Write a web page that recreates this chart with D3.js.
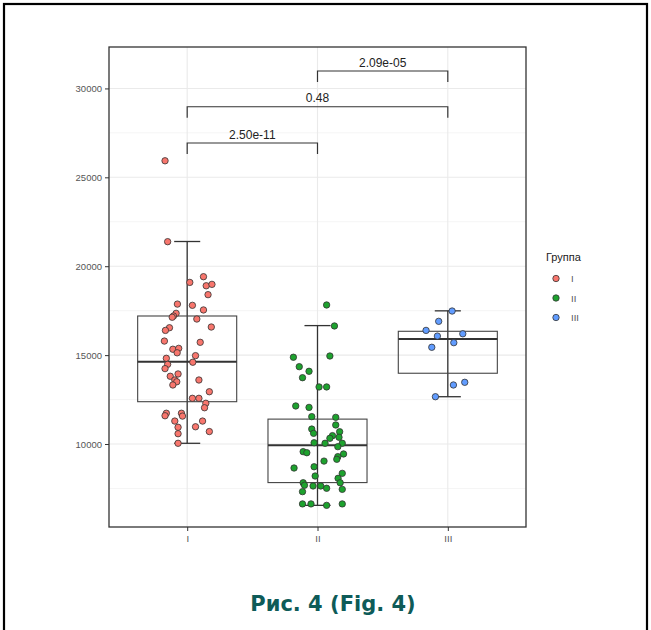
<!DOCTYPE html>
<html><head><meta charset="utf-8">
<script src="https://cdn.jsdelivr.net/npm/d3@7"></script>
<style>html,body{margin:0;padding:0;background:#fff;}svg{display:block;}</style>
</head><body><svg id="chart" width="651" height="630"></svg>
<script>
// ---- data ----
const categories = ["I", "II", "III"];
const groupColors = ["#F8766D", "#1DA22E", "#619CFF"];
const legendTitle = "Группа";
const caption = "Рис. 4 (Fig. 4)";

const valuesI = [25930,21380,19090,19410,18900,18980,18400,17870,17800,17540,17350,17200,17130,17030,16580,16540,16390,
  15790,15720,15330,15380,15130,14970,14820,14600,14480,14240,13940,13810,13600,13500,13320,13600,12940,12570,12570,
  12290,12040,11730,11590,11730,11570,11290,11290,10970,10940,10700,10580,10040];
const jitterI = [-0.17,-0.15,0.02,0.125,0.146,0.19,0.16,-0.075,0.04,0.125,-0.085,-0.105,-0.115,0.074,0.185,-0.136,-0.167,
  -0.175,0.1,-0.11,-0.065,-0.077,0.064,-0.16,0.043,-0.15,-0.17,-0.07,-0.13,-0.095,-0.08,-0.11,0.09,0.17,0.04,0.09,
  0.143,0.133,-0.16,-0.17,-0.044,-0.036,-0.095,0.118,0.064,-0.07,0.17,-0.07,-0.07];

const valuesII = [17820,16640,14880,14950,14350,14090,13730,13210,13210,12140,12060,11540,11500,11070,10840,10600,10690,
  10470,10380,10320,10070,10040,10040,9850,9570,9510,9440,9290,9140,9040,8650,8720,8200,8350,8070,7820,7820,7680,7640,
  7640,7510,7450,7320,6630,6630,6550,6630];
const jitterII = [0.07,0.13,-0.185,0.095,-0.14,-0.065,-0.115,0.012,0.07,-0.167,-0.065,-0.044,0.14,0.14,-0.044,-0.03,0.17,
  0.115,0.165,0.095,-0.026,0.058,0.19,0.156,-0.11,-0.082,0.2,0.156,0.148,0.05,-0.18,-0.026,-0.018,0.19,0.158,0.174,-0.11,
  -0.1,-0.034,0.025,0.07,0.19,-0.115,-0.115,-0.05,0.07,0.19];

const valuesIII = [17480,16900,16390,16070,16200,15700,15440,13470,13320,12660];
const jitterIII = [0.033,-0.07,-0.167,-0.08,0.115,0.046,-0.123,0.13,0.043,-0.095];

// box statistics
const boxQ1 = [12380, 7830, 13980];
const boxMedian = [14630, 9930, 15900];
const boxQ3 = [17200, 11400, 16340];
const whiskerLow = [10040, 6550, 12660];
const whiskerHigh = [21390, 16660, 17490];

// y axis ticks
const yTicks = [10000, 15000, 20000, 25000, 30000];
const yMinorTicks = [7500, 12500, 17500, 22500, 27500];
const yDomain = [5332, 32330];

// significance brackets
const bracketFrom = ["I", "I", "II"];
const bracketTo = ["II", "III", "III"];
const bracketLabels = ["2.50e-11", "0.48", "2.09e-05"];
const bracketY = [26930, 28970, 30980];

// ---- drawing ----
const svg = d3.select("#chart");
const panel = {left: 109, right: 526, top: 47, bottom: 527};

svg.append("rect").attr("x", 0).attr("y", 0).attr("width", 651).attr("height", 630).attr("fill", "#fff");
svg.append("rect").attr("x", 4).attr("y", 4).attr("width", 643).attr("height", 640)
  .attr("fill", "none").attr("stroke", "#000").attr("stroke-width", 2.2);

const x = d3.scalePoint().domain(categories).range([panel.left, panel.right]).padding(0.6);
const step = x.step();
const y = d3.scaleLinear().domain(yDomain).range([panel.bottom, panel.top]);

const g = svg.append("g");
// grid
g.selectAll(".ymin").data(yMinorTicks).join("line")
  .attr("x1", panel.left).attr("x2", panel.right).attr("y1", d => y(d)).attr("y2", d => y(d))
  .attr("stroke", "#F2F2F2").attr("stroke-width", 0.8);
g.selectAll(".ymaj").data(yTicks).join("line")
  .attr("x1", panel.left).attr("x2", panel.right).attr("y1", d => y(d)).attr("y2", d => y(d))
  .attr("stroke", "#EAEAEA").attr("stroke-width", 1.1);
g.selectAll(".xmaj").data(categories).join("line")
  .attr("x1", d => x(d)).attr("x2", d => x(d)).attr("y1", panel.top).attr("y2", panel.bottom)
  .attr("stroke", "#EAEAEA").attr("stroke-width", 1.1);

// error bars (whiskers) and boxes
categories.forEach((c, i) => {
  const cx = x(c);
  const cw = 0.1 * step;
  g.append("line").attr("x1", cx).attr("x2", cx).attr("y1", y(whiskerLow[i])).attr("y2", y(whiskerHigh[i]))
    .attr("stroke", "#333").attr("stroke-width", 1.3);
  [whiskerLow[i], whiskerHigh[i]].forEach(v => {
    g.append("line").attr("x1", cx - cw).attr("x2", cx + cw).attr("y1", y(v)).attr("y2", y(v))
      .attr("stroke", "#333").attr("stroke-width", 1.3);
  });
  const bw = 0.38 * step;
  g.append("rect").attr("x", cx - bw).attr("width", 2 * bw)
    .attr("y", y(boxQ3[i])).attr("height", y(boxQ1[i]) - y(boxQ3[i]))
    .attr("fill", "none").attr("stroke", "#444").attr("stroke-width", 1.1);
  g.append("line").attr("x1", cx - bw).attr("x2", cx + bw).attr("y1", y(boxMedian[i])).attr("y2", y(boxMedian[i]))
    .attr("stroke", "#333").attr("stroke-width", 2);
});

// points
const groups = [
  {vals: valuesI, jit: jitterI},
  {vals: valuesII, jit: jitterII},
  {vals: valuesIII, jit: jitterIII}
];
groups.forEach((grp, i) => {
  g.selectAll(".pt" + i).data(grp.vals.map((v, k) => ({v, j: grp.jit[k]}))).join("circle")
    .attr("cx", d => x(categories[i]) + d.j * step)
    .attr("cy", d => y(d.v))
    .attr("r", 3.2)
    .attr("fill", groupColors[i])
    .attr("stroke", "#333").attr("stroke-width", 0.8);
});

// brackets
const tip = 11;
bracketLabels.forEach((lab, i) => {
  const x1 = x(bracketFrom[i]), x2 = x(bracketTo[i]), yy = y(bracketY[i]);
  g.append("path").attr("d", `M${x1},${yy + tip}V${yy}H${x2}V${yy + tip}`)
    .attr("fill", "none").attr("stroke", "#333").attr("stroke-width", 1.2);
  g.append("text").attr("x", (x1 + x2) / 2).attr("y", yy - 4.5).attr("text-anchor", "middle")
    .attr("font-family", "Liberation Sans, Arial, sans-serif").attr("font-size", 12).attr("fill", "#222")
    .text(lab);
});

// panel border
svg.append("rect").attr("x", panel.left).attr("y", panel.top)
  .attr("width", panel.right - panel.left).attr("height", panel.bottom - panel.top)
  .attr("fill", "none").attr("stroke", "#333").attr("stroke-width", 1.3);

// axes
const yAxis = svg.append("g").attr("transform", `translate(${panel.left},0)`)
  .call(d3.axisLeft(y).tickValues(yTicks).tickSize(4).tickPadding(3).tickFormat(d3.format("d")));
yAxis.select(".domain").remove();
yAxis.selectAll(".tick line").attr("stroke", "#333");
yAxis.selectAll("text").attr("font-family", "Liberation Sans, Arial, sans-serif").attr("font-size", 9.5).attr("fill", "#555");

const xAxis = svg.append("g").attr("transform", `translate(0,${panel.bottom})`)
  .call(d3.axisBottom(x).tickSize(4).tickPadding(4));
xAxis.select(".domain").remove();
xAxis.selectAll(".tick line").attr("stroke", "#333");
xAxis.selectAll("text").attr("font-family", "Liberation Sans, Arial, sans-serif").attr("font-size", 9.5).attr("fill", "#555");

// legend
const lg = svg.append("g").attr("transform", "translate(546,0)");
lg.append("text").attr("x", 0).attr("y", 261).text(legendTitle)
  .attr("font-family", "Liberation Sans, Arial, sans-serif").attr("font-size", 11).attr("fill", "#222");
categories.forEach((c, i) => {
  const yy = 278.5 + i * 19.5;
  lg.append("circle").attr("cx", 10).attr("cy", yy).attr("r", 3.2)
    .attr("fill", groupColors[i]).attr("stroke", "#333").attr("stroke-width", 0.8);
  lg.append("text").attr("x", 25).attr("y", yy + 3.5).text(c)
    .attr("font-family", "Liberation Sans, Arial, sans-serif").attr("font-size", 9.5).attr("fill", "#555");
});

// caption
svg.append("text").attr("x", 333).attr("y", 611).attr("text-anchor", "middle")
  .attr("font-family", "DejaVu Sans, sans-serif").attr("font-weight", "bold").attr("font-size", 21)
  .attr("fill", "#0E5B58").text(caption);
</script></body></html>
